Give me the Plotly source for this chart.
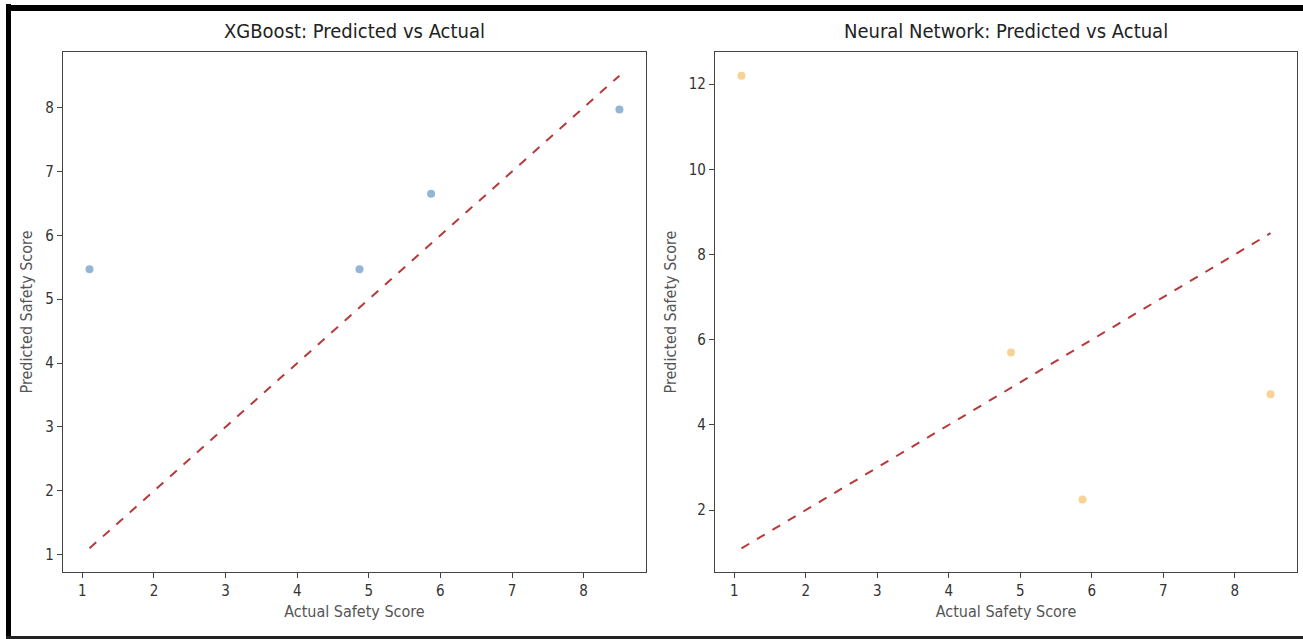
import plotly.graph_objects as go
from plotly.subplots import make_subplots

# Data
actual = [1.1, 4.87, 5.87, 8.5]
xgb_pred = [5.47, 5.47, 6.65, 7.97]
nn_pred = [12.2, 5.7, 2.25, 4.72]
ideal = [min(actual), max(actual)]

titles = ["XGBoost: Predicted vs Actual", "Neural Network: Predicted vs Actual"]
x_title = "Actual Safety Score"
y_title = "Predicted Safety Score"

FONT = "DejaVu Sans Condensed, DejaVu Sans"

fig = make_subplots(rows=1, cols=2, horizontal_spacing=0.056)

fig.add_trace(go.Scatter(x=actual, y=xgb_pred, mode="markers",
                         marker=dict(color="rgba(60,120,180,0.55)", size=8),
                         showlegend=False), row=1, col=1)
fig.add_trace(go.Scatter(x=ideal, y=ideal, mode="lines",
                         line=dict(color="#b8393a", width=2, dash="dash"),
                         showlegend=False), row=1, col=1)
fig.add_trace(go.Scatter(x=actual, y=nn_pred, mode="markers",
                         marker=dict(color="rgba(240,175,60,0.55)", size=8),
                         showlegend=False), row=1, col=2)
fig.add_trace(go.Scatter(x=ideal, y=ideal, mode="lines",
                         line=dict(color="#b8393a", width=2, dash="dash"),
                         showlegend=False), row=1, col=2)

axis_common = dict(showgrid=False, zeroline=False, showline=True, mirror=True,
                   linecolor="#444", linewidth=1.3, ticks="outside", ticklen=5,
                   tickcolor="#444", tickfont=dict(family=FONT, size=15, color="#333"),
                   title_font=dict(family=FONT, size=16, color="#555"))

fig.update_xaxes(**axis_common, range=[0.73, 8.87], dtick=1, title_text=x_title, title_standoff=6)
fig.update_yaxes(**axis_common, title_text=y_title, title_standoff=8)
fig.update_yaxes(range=[0.73, 8.87], dtick=1, row=1, col=1)
fig.update_yaxes(range=[0.545, 12.755], dtick=2, row=1, col=2)

fig.update_xaxes(domain=[0, 0.4724], row=1, col=1)
fig.update_xaxes(domain=[0.5284, 1], row=1, col=2)

for i, t in enumerate(titles):
    dom = [0, 0.4724] if i == 0 else [0.5284, 1]
    fig.add_annotation(text=t, x=(dom[0] + dom[1]) / 2, y=1, xref="paper", yref="paper",
                       xanchor="center", yanchor="bottom", yshift=7, showarrow=False,
                       font=dict(family=FONT, size=20, color="#222"))

# outer frame (left, top, bottom)
W, H, L, R, T, B = 1303, 639, 63, 6, 52, 67
pw, ph = W - L - R, H - T - B
def px(x):
    return (x - L) / pw
def py(y):
    return (H - B - y) / ph
fig.add_shape(type="line", xref="paper", yref="paper", x0=px(8.5), x1=px(8.5), y0=py(4), y1=py(639),
              line=dict(color="black", width=5))
fig.add_shape(type="line", xref="paper", yref="paper", x0=px(6), x1=px(1303), y0=py(8), y1=py(8),
              line=dict(color="black", width=6))
fig.add_shape(type="line", xref="paper", yref="paper", x0=px(6), x1=px(1303), y0=py(637.5), y1=py(637.5),
              line=dict(color="#222", width=3))

fig.update_layout(width=W, height=H, margin=dict(l=L, r=R, t=T, b=B),
                  paper_bgcolor="white", plot_bgcolor="white",
                  font=dict(family=FONT))

fig.write_html("out.html", config={"displayModeBar": False},
               post_script="document.body.style.margin='0';document.body.style.overflow='hidden';")
